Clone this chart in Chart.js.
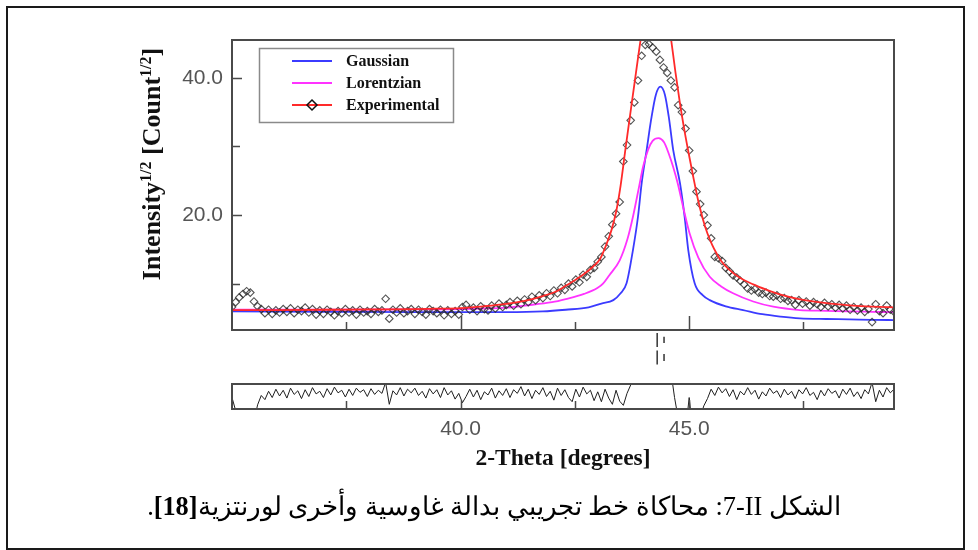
<!DOCTYPE html>
<html>
<head>
<meta charset="utf-8">
<script src="https://cdn.jsdelivr.net/npm/chart.js@4.4.1/dist/chart.umd.min.js"></script>
<style>
  body { margin: 0; background: #fff; }
  #page { position: relative; width: 978px; height: 550px; overflow: hidden; background: #fff; }
  #page canvas { position: absolute; left: 0; top: 0; }
  #frame { position: absolute; left: 6px; top: 6px; width: 955px; height: 540px; border: 2px solid #1a1a1a; }
  #caption { position: absolute; left: 100px; width: 788px; top: 494px; line-height: 1; text-align: center; direction: rtl;
             font-family: "Liberation Serif", "DejaVu Serif", serif; font-size: 26.3px; color: #000; }
</style>
</head>
<body>
<div id="page">
  <div id="frame"></div>
  <canvas id="mainChart" width="978" height="550"></canvas>
  <canvas id="markChart" width="978" height="550"></canvas>
  <canvas id="residChart" width="978" height="550"></canvas>
  <div id="caption">الشكل II&#x200F;-&#x200F;7: محاكاة خط تجريبي بدالة غاوسية وأخرى لورنتزية<b>[18]</b>.</div>
</div>
<script>
// 2-theta grid of the measured points (start + step)
const THETA_START = 35.0;
const THETA_STEP = 0.08;
const X_MIN = 35.0, X_MAX = 49.48;
const Y_MIN = 3.25, Y_MAX = 45.5;

// measured intensity^1/2, one value per grid step
const OBS = [
  6.6, 7.3, 8.0, 8.5, 8.9, 8.7, 7.4, 6.7, 6.3, 5.7,
  6.2, 5.6, 6.1, 5.8, 6.3, 5.9, 6.4, 5.7, 6.2, 6.0,
  6.5, 5.8, 6.3, 5.5, 6.1, 5.6, 6.2, 5.9, 5.4, 6.0,
  5.7, 6.3, 5.8, 6.1, 5.5, 6.2, 5.8, 6.0, 5.6, 6.3,
  5.9, 6.1, 7.8, 4.9, 6.2, 5.8, 6.4, 5.7, 6.0, 6.3,
  5.6, 6.2, 5.9, 5.5, 6.3, 6.0, 5.7, 6.2, 5.4, 6.1,
  5.6, 6.0, 5.5, 6.6, 6.9, 6.2, 6.5, 6.0, 6.7, 6.3,
  6.1, 6.8, 6.4, 7.1, 6.6, 6.9, 7.3, 6.8, 7.5, 7.0,
  7.7, 7.3, 8.1, 7.6, 8.3, 7.9, 8.6, 8.2, 9.0, 8.6,
  9.4, 9.1, 10.0, 9.6, 10.6, 10.2, 11.3, 11.0, 12.0, 12.3,
  13.2, 13.9, 15.4, 16.9, 18.6, 20.2, 21.9, 27.8, 30.2, 33.8,
  36.4, 39.6, 43.2, 44.8, 44.9, 44.4, 43.8, 42.6, 41.5, 40.7,
  39.6, 38.6, 36.0, 35.0, 32.6, 29.4, 26.4, 23.4, 21.6, 20.0,
  18.5, 16.6, 13.9, 13.7, 13.3, 12.3, 11.8, 11.2, 10.9, 10.4,
  9.9, 9.3, 9.0, 9.2, 8.7, 8.5, 8.7, 8.2, 8.1, 8.3,
  7.8, 7.9, 7.5, 7.6, 6.9, 7.6, 7.1, 7.4, 6.8, 7.3,
  7.0, 6.6, 7.2, 6.7, 7.0, 6.5, 6.9, 6.4, 6.8, 6.2,
  6.6, 6.1, 6.5, 5.9, 6.3, 4.4, 7.0, 6.0, 5.7, 6.8,
  6.2, 5.9
];

// difference curve, same grid
const RESID = [
  1.0, -1.5, -3.9, -5, -5, -5, -3.6, -0.4, 1.4, 0.6,
  2.2, 1.0, 2.6, 1.3, 2.4, 0.9, 2.8, 1.6, 2.3, 0.8,
  2.5, 1.2, 2.9, 1.7, 2.2, 1.0, 2.7, 1.5, 3.0, 1.9,
  2.4, 1.1, 2.6, 1.4, 2.8, 2.0, 2.5, 1.2, 2.7, 1.6,
  2.4, 1.8, 3.9, -0.3, 2.3, 1.5, 2.9, 1.3, 2.6, 1.9,
  2.8, 1.4, 2.2, 0.9, 2.7, 1.7, 2.5, 1.0, 2.9, 1.5,
  2.3, 0.7, 1.8, 0.0, 1.2, 2.6, 1.1, 2.4, 0.6, 2.1,
  1.5, 2.8, 0.9, 2.3, 1.4, 2.7, 1.0, 2.5, 1.8, 3.1,
  1.3, 2.6, 0.8, 2.4, 1.6, 2.9, 1.2, 2.2, 0.5, 2.8,
  1.4, 2.5, 1.0, 0.2, 2.6, 1.1, 3.0, 1.7, 2.4, 0.4,
  2.1, 0.2, 2.6, 0.9, -0.3, 2.4, 0.3, -0.5, 1.8, 3.4,
  6, 9, 9, 9, 9, 9, 9, 9, 9, 9,
  6, 1.0, -3.0, -5.5, -5.5, 1.0, -5.5, -4.6, -2.8, -0.6,
  0.8, 2.6, 1.4, 3.0, 1.9, 2.7, 1.2, 2.5, 0.6, 2.2,
  1.5, 2.9, 1.6, 2.4, 0.7, 2.1, 1.3, 2.8, 1.8, 2.3,
  1.0, 2.6, 1.5, 2.2, 0.8, 2.5, 1.7, 2.9, 1.4, 2.0,
  0.6, 2.4, 1.3, 2.7, 1.8, 2.3, 0.9, 2.6, 1.6, 2.8,
  1.2, 2.1, 0.8, 2.5, 1.7, 3.9, 0.2, 2.4, 1.1, 2.9,
  1.9, 2.6
];

// fitted curves
const RED_X = [35.0, 36.0, 37.0, 38.0, 39.0, 39.5, 40.0, 40.5, 41.0, 41.4, 41.8, 42.1, 42.3, 42.5, 42.7, 42.9, 43.05,
  43.2, 43.3, 43.4, 43.5, 43.6, 43.7, 43.8, 43.9, 44.0, 44.1, 44.2, 44.3, 44.4, 44.5, 44.6, 44.7, 44.8, 44.9,
  45.0, 45.1, 45.2, 45.3, 45.4, 45.5, 45.6, 45.7, 45.85, 46.1, 46.4, 46.7, 47.0, 47.4, 48.0, 48.5, 49.0, 49.5];
const RED_Y = [6.15, 6.15, 6.2, 6.25, 6.3, 6.35, 6.45, 6.7, 7.05, 7.5, 8.2, 8.9, 9.7, 10.5, 11.4, 12.5, 13.6,
  15.9, 17.8, 20.4, 24.3, 29.3, 34.2, 39.0, 43.8, 48.3, 52.0, 54.5, 55.2, 53.8, 50.3, 45.8, 40.8, 36.2, 32.2,
  28.6, 25.2, 22.0, 19.4, 17.3, 15.7, 14.4, 13.3, 12.2, 10.9, 9.9, 9.1, 8.4, 7.75, 7.15, 6.85, 6.65, 6.55];

const BLUE_X = [35.0, 37.0, 39.0, 41.0, 41.8, 42.3, 42.8, 43.08, 43.34, 43.5, 43.63, 43.77, 43.88, 43.96, 44.07,
  44.17, 44.27, 44.37, 44.47, 44.56, 44.65, 44.8, 44.9, 44.98, 45.12, 45.3, 45.45, 45.8, 46.18, 46.6, 47.0,
  47.42, 48.0, 48.5, 49.0, 49.5];
const BLUE_Y = [5.95, 5.9, 5.85, 5.85, 5.95, 6.2, 6.55, 7.1, 7.6, 8.6, 10.05, 14.9, 19.75, 24.6, 29.5,
  34.0, 37.5, 38.7, 37.5, 34.0, 29.5, 24.6, 19.75, 14.9, 10.05, 8.3, 7.6, 6.7, 6.16, 5.55, 5.2,
  4.95, 4.85, 4.8, 4.72, 4.7];

const MAG_X = [35.0, 37.0, 39.0, 40.0, 41.0, 41.4, 42.0, 42.3, 42.7, 43.0, 43.12, 43.25, 43.48, 43.65, 43.77,
  43.9, 43.99, 44.1, 44.2, 44.33, 44.45, 44.55, 44.65, 44.75, 44.88, 45.01, 45.2, 45.45, 45.7, 45.96, 46.4,
  46.84, 47.42, 48.0, 48.5, 49.0, 49.5];
const MAG_Y = [6.2, 6.2, 6.25, 6.3, 6.5, 6.8, 7.3, 7.75, 8.5, 9.4, 10.05, 11.2, 13.4, 16.5, 19.75,
  24.0, 27.0, 29.5, 30.8, 31.2, 30.6, 29.0, 27.0, 24.6, 20.8, 17.3, 13.8, 11.0, 9.6, 8.6, 7.4,
  6.64, 6.16, 6.05, 5.95, 5.9, 5.85];

// reflection markers (two rows, K-alpha1 / K-alpha2)
const REFLEX_X = [44.30, 44.45, 44.30, 44.45];
const REFLEX_ROW = [1, 1, 2, 2];
const REFLEX_REL = [1, 0.45, 1, 0.5];

// axes
const Y_TICKS = [10, 20, 30, 40];
const Y_LABELED = [20, 40];
const X_TICKS = [37.5, 40, 42.5, 45, 47.5];
const X_LABELED = [40, 45];
const X_TITLE = '2-Theta [degrees]';
const Y_TITLE_PARTS = [
  { text: 'Intensity' }, { text: '1/2', sup: true }, { text: ' [Count' }, { text: '1/2', sup: true }, { text: ']' }
];
const LEGEND_LABELS = ['Gaussian', 'Lorentzian', 'Experimental'];

const THETA = OBS.map((_, i) => +(THETA_START + i * THETA_STEP).toFixed(2));
const xy = (xs, ys) => xs.map((x, i) => ({ x: x, y: ys[i] }));

const RED = '#ff2a2a', BLUE = '#3b3bff', MAGENTA = '#ff33ff';
const SERIF = '"Liberation Serif", "Times New Roman", serif';

// frame round the plot area with inward ticks
const frameTicks = {
  id: 'frameTicks',
  afterDraw(chart, args, o) {
    const { ctx, chartArea: a, scales } = chart;
    ctx.save();
    ctx.strokeStyle = '#4a4a4a';
    ctx.lineWidth = 2;
    ctx.strokeRect(a.left, a.top, a.right - a.left, a.bottom - a.top);
    ctx.lineWidth = 1.5;
    ctx.beginPath();
    (o.xTicks || []).forEach(v => {
      const px = Math.round(scales.x.getPixelForValue(v)) + 0.5;
      const len = (o.xMajor || []).includes(v) ? o.xMajorLen : o.xMinorLen;
      ctx.moveTo(px, a.bottom);
      ctx.lineTo(px, a.bottom - len);
    });
    (o.yTicks || []).forEach(v => {
      const py = Math.round(scales.y.getPixelForValue(v)) + 0.5;
      const len = (o.yMajor || []).includes(v) ? o.yMajorLen : o.yMinorLen;
      ctx.moveTo(a.left, py);
      ctx.lineTo(a.left + len, py);
    });
    ctx.stroke();
    ctx.restore();
  }
};

const legendBox = {
  id: 'legendBox',
  afterDraw(chart) {
    const { ctx, chartArea: a } = chart;
    const left = a.left + 27, top = a.top + 8;
    const colors = [BLUE, MAGENTA, RED];
    ctx.save();
    ctx.strokeStyle = '#8a8a8a';
    ctx.lineWidth = 1.5;
    ctx.strokeRect(left + 0.5, top + 0.5, 194, 74);
    ctx.font = 'bold 16px ' + SERIF;
    ctx.textBaseline = 'middle';
    ctx.fillStyle = '#111';
    LEGEND_LABELS.forEach((lab, i) => {
      const y = top + 13 + i * 22;
      ctx.strokeStyle = colors[i];
      ctx.lineWidth = 2;
      ctx.beginPath();
      ctx.moveTo(left + 33, y);
      ctx.lineTo(left + 73, y);
      ctx.stroke();
      if (i === 2) {
        ctx.strokeStyle = '#111';
        ctx.lineWidth = 1.5;
        ctx.beginPath();
        ctx.moveTo(left + 53, y - 5);
        ctx.lineTo(left + 58, y);
        ctx.lineTo(left + 53, y + 5);
        ctx.lineTo(left + 48, y);
        ctx.closePath();
        ctx.stroke();
      }
      ctx.fillText(lab, left + 87, y + 1);
    });
    ctx.restore();
  }
};

const yTitle = {
  id: 'yTitle',
  afterDraw(chart, args, o) {
    const ctx = chart.ctx;
    const big = 'bold 26px ' + SERIF, small = 'bold 16px ' + SERIF;
    ctx.save();
    let w = 0;
    Y_TITLE_PARTS.forEach(p => { ctx.font = p.sup ? small : big; w += ctx.measureText(p.text).width; });
    ctx.translate(o.x, o.y);
    ctx.rotate(-Math.PI / 2);
    ctx.fillStyle = '#111';
    ctx.textBaseline = 'alphabetic';
    let x = -w / 2;
    Y_TITLE_PARTS.forEach(p => {
      ctx.font = p.sup ? small : big;
      ctx.fillText(p.text, x, p.sup ? -9 : 0);
      x += ctx.measureText(p.text).width;
    });
    ctx.restore();
  }
};

Chart.defaults.font.family = '"Liberation Sans", Arial, sans-serif';
Chart.defaults.animation = false;
Chart.defaults.events = [];

new Chart(document.getElementById('mainChart'), {
  type: 'line',
  data: {
    datasets: [
      { label: 'Experimental', data: xy(RED_X, RED_Y), borderColor: RED, borderWidth: 1.8,
        pointRadius: 0, cubicInterpolationMode: 'monotone', order: 0 },
      { label: 'Observed', data: xy(THETA, OBS), showLine: false, pointStyle: 'rectRot', pointRadius: 3.8,
        pointBorderWidth: 1.1, pointBorderColor: 'rgba(40,40,40,0.8)', pointBackgroundColor: 'rgba(255,255,255,0)', order: 1 },
      { label: 'Lorentzian', data: xy(MAG_X, MAG_Y), borderColor: MAGENTA, borderWidth: 1.8,
        pointRadius: 0, cubicInterpolationMode: 'monotone', order: 2 },
      { label: 'Gaussian', data: xy(BLUE_X, BLUE_Y), borderColor: BLUE, borderWidth: 1.8,
        pointRadius: 0, cubicInterpolationMode: 'monotone', order: 3 }
    ]
  },
  options: {
    responsive: false,
    layout: { padding: { left: 0, top: 40, right: 84, bottom: 220 } },
    scales: {
      x: { type: 'linear', display: false, min: X_MIN, max: X_MAX },
      y: {
        min: Y_MIN, max: Y_MAX,
        afterFit: s => { s.width = 232; },
        afterBuildTicks: s => { s.ticks = Y_TICKS.map(v => ({ value: v })); },
        grid: { display: false, drawTicks: false },
        border: { display: false },
        ticks: {
          padding: 9, color: '#555', font: { size: 21 },
          callback: v => Y_LABELED.includes(v) ? v.toFixed(1) : ''
        }
      }
    },
    plugins: {
      legend: { display: false },
      tooltip: { enabled: false },
      frameTicks: { xTicks: X_TICKS, xMajor: X_LABELED, xMajorLen: 14, xMinorLen: 8,
                    yTicks: Y_TICKS, yMajor: Y_LABELED, yMajorLen: 10, yMinorLen: 8 },
      yTitle: { x: 160, y: 164 }
    }
  },
  plugins: [frameTicks, legendBox, yTitle]
});

new Chart(document.getElementById('markChart'), {
  type: 'line',
  data: {
    datasets: [{
      label: 'Reflections', data: xy(REFLEX_X, REFLEX_ROW), showLine: false,
      pointStyle: 'line', rotation: 90, borderColor: '#333', borderWidth: 1.5,
      pointRadius: REFLEX_REL.map(r => 7 * r)
    }]
  },
  options: {
    responsive: false,
    layout: { padding: { left: 232, top: 330, right: 84, bottom: 180 } },
    scales: {
      x: { type: 'linear', display: false, min: X_MIN, max: X_MAX },
      y: { display: false, min: 0.43, max: 2.72, reverse: true }
    },
    plugins: { legend: { display: false }, tooltip: { enabled: false } }
  }
});

new Chart(document.getElementById('residChart'), {
  type: 'line',
  data: {
    datasets: [{ label: 'Difference', data: xy(THETA, RESID), borderColor: '#1e1e1e', borderWidth: 1,
                 pointRadius: 0, tension: 0 }]
  },
  options: {
    responsive: false,
    layout: { padding: { left: 232, top: 384, right: 84, bottom: 73 } },
    scales: {
      x: {
        type: 'linear', min: X_MIN, max: X_MAX,
        afterFit: s => { s.height = 68; },
        afterBuildTicks: s => { s.ticks = X_LABELED.map(v => ({ value: v })); },
        grid: { display: false, drawTicks: false },
        border: { display: false },
        ticks: { padding: 8, color: '#555', font: { size: 21 }, maxRotation: 0, autoSkip: false,
                 callback: v => v.toFixed(1) },
        title: { display: true, text: X_TITLE, color: '#111', padding: { top: 0, bottom: 4 },
                 font: { family: SERIF, size: 23.5, weight: 'bold' } }
      },
      y: { display: false, min: -1.2, max: 3.6 }
    },
    plugins: {
      legend: { display: false },
      tooltip: { enabled: false },
      frameTicks: { xTicks: X_TICKS, xMajor: X_LABELED, xMajorLen: 9, xMinorLen: 8 }
    }
  },
  plugins: [frameTicks]
});
</script>
</body>
</html>
